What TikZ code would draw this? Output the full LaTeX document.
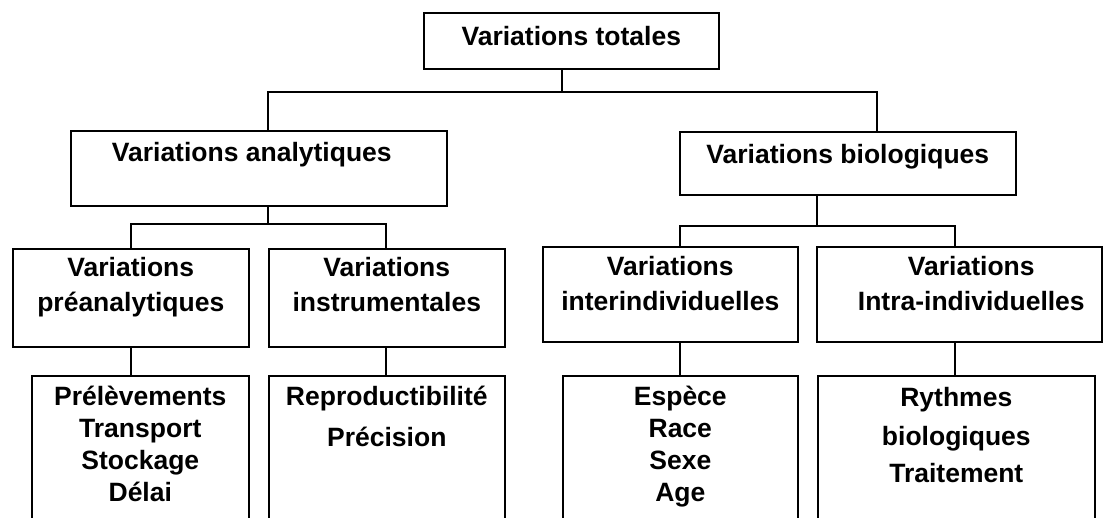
\documentclass[tikz,border=0pt]{standalone}
\usepackage{fontspec}
\setmainfont{Liberation Sans}
\usetikzlibrary{positioning}

\begin{document}
\begin{tikzpicture}[x=1pt,y=-1pt,
    boite/.style={draw,line width=1.6pt,inner sep=0pt,anchor=north west},
    txt/.style={font=\fontsize{26.5}{32}\selectfont\bfseries,align=center,inner sep=0pt},
    trait/.style={line width=1.6pt}]
  \useasboundingbox (0,0) rectangle (1103,517);
  \clip (0,0) rectangle (1103,517);
  % boxes
  \node[boite,minimum width=295pt,minimum height=56pt] (tot) at (423,12) {};
  \node[boite,minimum width=376pt,minimum height=75pt] (ana) at (70,130) {};
  \node[boite,minimum width=336pt,minimum height=63pt] (bio) at (679,131) {};
  \node[boite,minimum width=236pt,minimum height=98pt] (pre) at (12,248) {};
  \node[boite,minimum width=236pt,minimum height=98pt] (ins) at (268,248) {};
  \node[boite,minimum width=255pt,minimum height=95pt] (int) at (542,246) {};
  \node[boite,minimum width=285pt,minimum height=95pt] (ira) at (816,246) {};
  \node[boite,minimum width=217pt,minimum height=165pt] (prel) at (31,375) {};
  \node[boite,minimum width=236pt,minimum height=165pt] (repr) at (268,375) {};
  \node[boite,minimum width=235pt,minimum height=165pt] (esp) at (562,375) {};
  \node[boite,minimum width=277pt,minimum height=165pt] (ryt) at (817,375) {};
  % texts
  \node[txt,below=14pt of tot.north] (tot-t) {Variations totales};
  \node[txt,below=12pt of ana.north,xshift=-7pt] (ana-t) {Variations analytiques};
  \node[txt,below=13pt of bio.north] (bio-t) {Variations biologiques};
  \node[txt,below=9pt of pre.north] (pre-t) {Variations\\[3pt]préanalytiques};
  \node[txt,below=9pt of ins.north] (ins-t) {Variations\\[3pt]instrumentales};
  \node[txt,below=10pt of int.north] (int-t) {Variations\\[3pt]interindividuelles};
  \node[txt,below=10pt of ira.north,xshift=12pt] (ira-t) {Variations\\[3pt]Intra-individuelles};
  \node[txt,below=11pt of prel.north] (prel-t) {Prélèvements\\Transport\\Stockage\\Délai};
  \node[txt,below=11pt of repr.north] (repr-t) {Reproductibilité\\[9pt]Précision};
  \node[txt,below=11pt of esp.north] (esp-t) {Espèce\\Race\\Sexe\\Age};
  \node[txt,below=12pt of ryt.north] (ryt-t) {Rythmes\\[7pt]biologiques\\[5pt]Traitement};
  % connectors
  \coordinate (j0) at (562,92);
  \coordinate (ja) at (268,92);
  \coordinate (jb) at (877,92);
  \coordinate (ka) at (268,224);
  \coordinate (kl) at (131,224);
  \coordinate (kr) at (386,224);
  \coordinate (kb) at (817,226);
  \coordinate (ml) at (680,226);
  \coordinate (mr) at (955,226);
  \draw[trait] (tot.south -| j0) -- (j0);
  \draw[trait] (ana.north -| ja) -- (ja) -- (jb) -- (bio.north -| jb);
  \draw[trait] (ana.south -| ka) -- (ka);
  \draw[trait] (pre.north -| kl) -- (kl) -- (kr) -- (ins.north -| kr);
  \draw[trait] (bio.south -| kb) -- (kb);
  \draw[trait] (int.north -| ml) -- (ml) -- (mr) -- (ira.north -| mr);
  \draw[trait] (pre.south -| kl) -- (prel.north -| kl);
  \draw[trait] (ins.south -| kr) -- (repr.north -| kr);
  \draw[trait] (int.south -| ml) -- (esp.north -| ml);
  \draw[trait] (ira.south -| mr) -- (ryt.north -| mr);
\end{tikzpicture}
\end{document}
